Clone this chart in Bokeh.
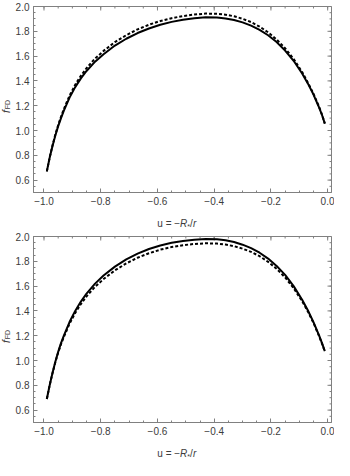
from math import pi
from bokeh.plotting import figure
from bokeh.layouts import column, row
from bokeh.models import Range1d, FixedTicker
from bokeh.core.properties import value
from bokeh.embed import file_html
from bokeh.resources import INLINE

# ---- data ----
u = [-0.99, -0.98, -0.97, -0.96, -0.95, -0.94, -0.93, -0.91, -0.89, -0.87,
     -0.85, -0.82, -0.79, -0.75, -0.71, -0.67, -0.63, -0.59, -0.55, -0.51,
     -0.47, -0.43, -0.39, -0.36, -0.33, -0.30, -0.27, -0.24, -0.21, -0.18,
     -0.15, -0.12, -0.09, -0.07, -0.05, -0.03, -0.02, -0.01]

top_solid = [0.67, 0.78, 0.875, 0.96, 1.035, 1.10, 1.16, 1.265, 1.35, 1.42,
             1.48, 1.555, 1.615, 1.685, 1.74, 1.786, 1.823, 1.853, 1.876, 1.893,
             1.905, 1.913, 1.911, 1.904, 1.891, 1.872, 1.846, 1.812, 1.768, 1.713,
             1.645, 1.562, 1.46, 1.38, 1.29, 1.185, 1.125, 1.055]
top_dashed = [0.67, 0.783, 0.88, 0.967, 1.044, 1.111, 1.173, 1.281, 1.369, 1.441,
              1.503, 1.58, 1.642, 1.713, 1.769, 1.816, 1.853, 1.883, 1.906, 1.923,
              1.935, 1.943, 1.941, 1.934, 1.921, 1.901, 1.874, 1.838, 1.792, 1.734,
              1.663, 1.577, 1.471, 1.388, 1.296, 1.189, 1.128, 1.057]

bot_solid = [0.69, 0.80, 0.90, 0.99, 1.07, 1.14, 1.20, 1.31, 1.40, 1.475,
             1.54, 1.62, 1.685, 1.757, 1.815, 1.862, 1.899, 1.928, 1.949, 1.964,
             1.974, 1.979, 1.977, 1.969, 1.955, 1.934, 1.906, 1.869, 1.822, 1.763,
             1.69, 1.60, 1.49, 1.405, 1.31, 1.20, 1.14, 1.075]
bot_dashed = [0.69, 0.80, 0.898, 0.986, 1.064, 1.132, 1.19, 1.296, 1.383, 1.455,
              1.517, 1.594, 1.657, 1.727, 1.783, 1.829, 1.865, 1.894, 1.915, 1.93,
              1.94, 1.945, 1.943, 1.935, 1.922, 1.902, 1.876, 1.841, 1.796, 1.74,
              1.67, 1.584, 1.478, 1.396, 1.303, 1.195, 1.136, 1.072]

x_ticks = [-1.0, -0.8, -0.6, -0.4, -0.2, 0.0]
x_tick_labels = ["\u22121.0", "\u22120.8", "\u22120.6", "\u22120.4", "\u22120.2", "0.0"]
y_ticks = [0.6, 0.8, 1.0, 1.2, 1.4, 1.6, 1.8, 2.0]
y_tick_labels = ["0.6", "0.8", "1.0", "1.2", "1.4", "1.6", "1.8", "2.0"]
x_minor = [round(-1.05 + 0.05 * i, 2) for i in range(23)]
y_minor = [round(0.5 + 0.05 * i, 2) for i in range(31)]

X_START, X_END = -1.037, 0.0135
Y_START, Y_END = 0.5, 2.0

FRAME = "#808080"
TXT = "#3c3c3c"
FONT = "Liberation Sans"

YLAB_W = 12
LEFT = 20
RIGHT = 3
TOP = 6
BOTTOM = 22
MAIN_H = 214
XLAB_H = 16
TOTAL_W = 334


def style_axis(ax, labels, ticks, minor):
    ax.ticker = FixedTicker(ticks=ticks, minor_ticks=minor)
    ax.axis_line_color = FRAME
    ax.major_tick_line_color = FRAME
    ax.minor_tick_line_color = FRAME
    ax.major_tick_in = 4
    ax.major_tick_out = 0
    ax.minor_tick_in = 2
    ax.minor_tick_out = 0
    ax.major_label_overrides = {t: l for t, l in zip(ticks, labels)}
    ax.major_label_text_font = FONT
    ax.major_label_text_font_size = "10px"
    ax.major_label_text_color = TXT
    ax.major_label_standoff = 4


def bare(fig):
    fig.grid.visible = False
    fig.outline_line_color = None
    fig.background_fill_color = None
    fig.border_fill_color = None
    return fig


def make_panel(solid, dashed):
    xr = Range1d(X_START, X_END)
    yr = Range1d(Y_START, Y_END)
    p = figure(width=TOTAL_W - YLAB_W, height=MAIN_H, x_range=xr, y_range=yr,
               output_backend="svg", toolbar_location=None,
               min_border_left=LEFT, min_border_right=RIGHT,
               min_border_top=TOP, min_border_bottom=BOTTOM)
    p.grid.visible = False
    p.outline_line_color = FRAME
    p.outline_line_width = 1
    style_axis(p.xaxis[0], x_tick_labels, x_ticks, x_minor)
    style_axis(p.yaxis[0], y_tick_labels, y_ticks, y_minor)

    # inward ticks on the top and right frame edges (half of each dash is clipped)
    p.scatter(x=x_ticks, y=[Y_END] * len(x_ticks), marker="dash", angle=pi / 2,
              size=8, line_color=FRAME, line_width=1)
    p.scatter(x=x_minor, y=[Y_END] * len(x_minor), marker="dash", angle=pi / 2,
              size=4, line_color=FRAME, line_width=1)
    p.scatter(x=[X_END] * len(y_ticks), y=y_ticks, marker="dash",
              size=8, line_color=FRAME, line_width=1)
    p.scatter(x=[X_END] * len(y_minor), y=y_minor, marker="dash",
              size=4, line_color=FRAME, line_width=1)

    p.line(u, solid, line_color="black", line_width=2, line_join="round")
    p.line(u, dashed, line_color="black", line_width=2, line_dash="3 2")

    # y label strip: f_FD rotated
    yl = bare(figure(width=YLAB_W, height=MAIN_H, x_range=Range1d(0, YLAB_W), y_range=yr,
                     output_backend="svg", toolbar_location=None,
                     x_axis_location=None, y_axis_location=None,
                     min_border_left=0, min_border_right=0,
                     min_border_top=TOP, min_border_bottom=BOTTOM))
    yl.text(x=[5.0], y=[1.165], text=["f"], angle=pi / 2,
            text_align="right", text_baseline="middle",
            text_font=value(FONT), text_font_size="11px", text_font_style="italic",
            text_color=TXT)
    yl.text(x=[7.0], y=[1.172], text=["FD"], angle=pi / 2,
            text_align="left", text_baseline="middle",
            text_font=value(FONT), text_font_size="7px", text_color=TXT)

    # x label strip: u = -R*/r
    xl = bare(figure(width=TOTAL_W, height=XLAB_H, x_range=xr, y_range=Range1d(0, XLAB_H),
                     output_backend="svg", toolbar_location=None,
                     x_axis_location=None, y_axis_location=None,
                     min_border_left=YLAB_W + LEFT, min_border_right=RIGHT,
                     min_border_top=0, min_border_bottom=0))
    xc = -0.53
    base = -19.5
    parts = [("u = \u2212", 0.0, 7, "normal", "10px"),
             ("R", 22.8, 7, "italic", "10px"),
             ("*", 30.0, 4.5, "normal", "7px"),
             ("/", 32.8, 7, "normal", "10px"),
             ("r", 35.6, 7, "italic", "10px")]
    for txt, dx, yy, st, fs in parts:
        xl.text(x=[xc], y=[yy], text=[txt], x_offset=base + dx,
                text_align="left", text_baseline="middle",
                text_font=value(FONT), text_font_size=fs, text_font_style=st,
                text_color=TXT)

    return column(row(yl, p, spacing=0), xl, spacing=0)


panel1 = make_panel(top_solid, top_dashed)
panel2 = make_panel(bot_solid, bot_dashed)
layout = column(panel1, panel2, spacing=0)

open("out.html", "w").write(file_html(layout, INLINE))
